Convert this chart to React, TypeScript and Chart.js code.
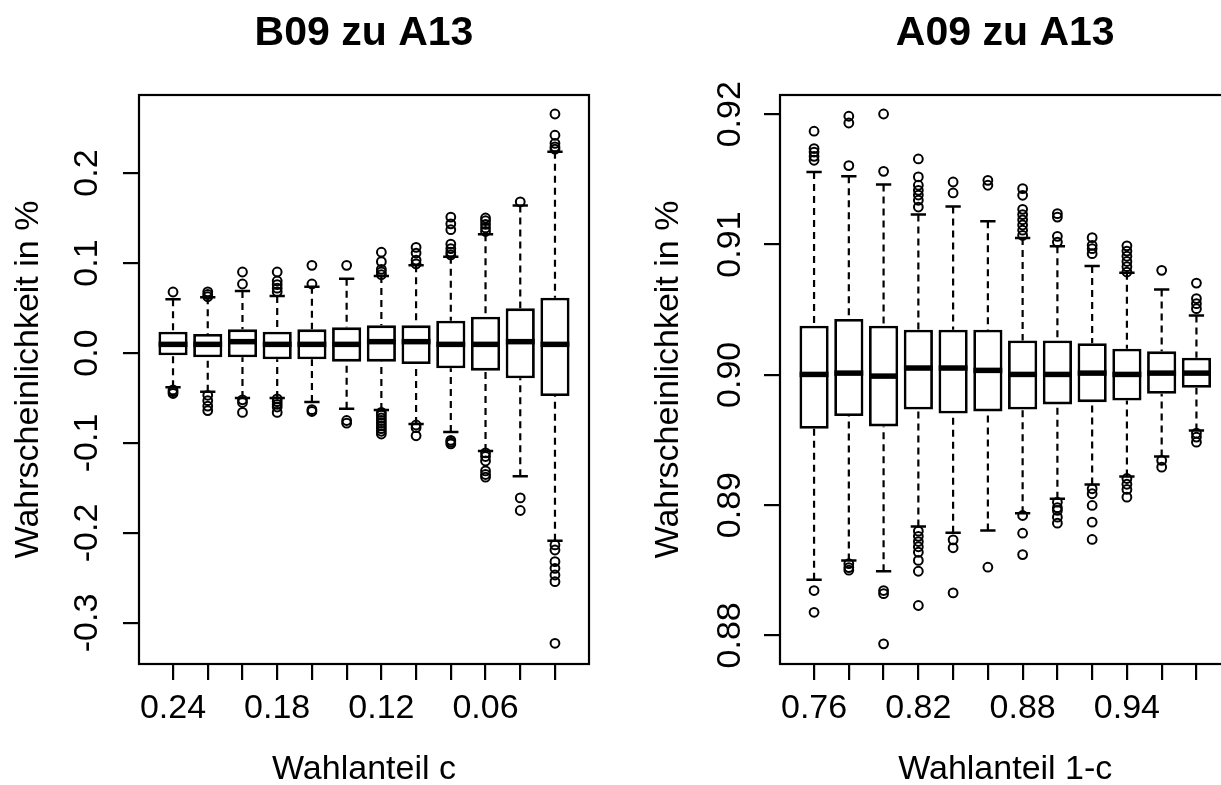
import React, { useEffect, useRef } from 'react';
import { Chart, registerables } from 'chart.js';

Chart.register(...registerables);

const FONT = "'Liberation Sans', Arial, Helvetica, sans-serif";
Chart.defaults.font.family = FONT;
Chart.defaults.color = '#000';

// ---------- Left panel: "B09 zu A13" ----------
const leftTitle = 'B09 zu A13';
const leftXTitle = 'Wahlanteil c';
const leftCategories = ['0.24', '0.22', '0.20', '0.18', '0.16', '0.14', '0.12', '0.10', '0.08', '0.06', '0.04', '0.02'];
const leftQ1 = [-0.0026, -0.0048, -0.0048, -0.007, -0.007, -0.0096, -0.0096, -0.0122, -0.017, -0.0196, -0.028, -0.0478];
const leftMedian = [0.0096, 0.0096, 0.0126, 0.0096, 0.0096, 0.0096, 0.0126, 0.0126, 0.0096, 0.0096, 0.0126, 0.0096];
const leftQ3 = [0.0237, 0.0211, 0.0263, 0.0237, 0.0263, 0.0285, 0.0307, 0.0307, 0.0359, 0.0404, 0.0496, 0.0615];
const leftLow = [-0.038, -0.043, -0.05, -0.05, -0.0544, -0.0619, -0.0633, -0.079, -0.0878, -0.109, -0.137, -0.2085];
const leftHigh = [0.0597, 0.0619, 0.069, 0.0633, 0.0737, 0.0826, 0.0856, 0.0974, 0.107, 0.132, 0.164, 0.2237];
const leftOutliers = [
  [0.0678, -0.041, -0.043, -0.045],
  [0.0625, 0.065, 0.068, -0.047, -0.053, -0.059, -0.064],
  [0.0767, 0.09, -0.052, -0.055, -0.066],
  [0.068, 0.072, 0.076, 0.08, 0.09, -0.051, -0.054, -0.057, -0.06, -0.066],
  [0.0767, 0.0974, -0.063, -0.065],
  [0.0974, -0.075, -0.078],
  [0.087, 0.09, 0.093, 0.1015, 0.112, -0.066, -0.069, -0.072, -0.075, -0.078, -0.081, -0.084, -0.087, -0.09],
  [0.099, 0.1033, 0.111, 0.1174, -0.08, -0.083, -0.092],
  [0.109, 0.112, 0.116, 0.121, 0.137, 0.1435, 0.151, -0.097, -0.099, -0.101],
  [0.135, 0.139, 0.143, 0.147, 0.15, -0.111, -0.115, -0.12, -0.131, -0.135, -0.138],
  [0.168, -0.161, -0.175],
  [0.2265, 0.229, 0.233, 0.242, 0.2656, -0.2133, -0.2189, -0.2319, -0.2393, -0.2467, -0.2541, -0.3226],
];
const leftYTicks = [-0.3, -0.2, -0.1, 0.0, 0.1, 0.2];
const leftYMin = -0.3456;
const leftYMax = 0.2867;

// ---------- Right panel: "A09 zu A13" ----------
const rightTitle = 'A09 zu A13';
const rightXTitle = 'Wahlanteil 1-c';
const rightCategories = ['0.76', '0.78', '0.80', '0.82', '0.84', '0.86', '0.88', '0.90', '0.92', '0.94', '0.96', '0.98'];
const rightQ1 = [0.89586, 0.89683, 0.89604, 0.89734, 0.89703, 0.89719, 0.89734, 0.89773, 0.8979, 0.89803, 0.89855, 0.89901];
const rightMedian = [0.90003, 0.90013, 0.8999, 0.90052, 0.90052, 0.90034, 0.90003, 0.90003, 0.90013, 0.90003, 0.90013, 0.90013];
const rightQ3 = [0.90377, 0.90428, 0.90377, 0.90346, 0.90346, 0.90346, 0.90264, 0.90264, 0.90243, 0.902, 0.9018, 0.90131];
const rightLow = [0.88426, 0.88574, 0.88492, 0.88836, 0.88787, 0.88805, 0.88938, 0.89048, 0.89158, 0.8922, 0.89373, 0.89573];
const rightHigh = [0.91557, 0.91524, 0.9146, 0.9123, 0.91293, 0.91178, 0.9105, 0.90986, 0.90835, 0.90784, 0.90654, 0.90456];
const rightOutliers = [
  [0.91647, 0.91677, 0.9171, 0.91737, 0.9187, 0.88344, 0.88177],
  [0.91606, 0.91933, 0.91985, 0.8855, 0.8852, 0.885],
  [0.91562, 0.92002, 0.88344, 0.8832, 0.87935],
  [0.91288, 0.9134, 0.9138, 0.91416, 0.91455, 0.91519, 0.91657, 0.888, 0.8876, 0.8872, 0.8868, 0.88638, 0.88575, 0.88492, 0.88229],
  [0.91396, 0.9148, 0.88733, 0.88672, 0.88326],
  [0.91455, 0.91493, 0.88523],
  [0.9107, 0.9111, 0.9115, 0.9119, 0.9123, 0.9127, 0.91378, 0.91429, 0.8892, 0.88784, 0.8862],
  [0.91019, 0.91063, 0.91211, 0.91237, 0.89022, 0.8898, 0.88959, 0.88907, 0.88861],
  [0.9093, 0.90968, 0.90994, 0.91053, 0.89125, 0.89087, 0.88997, 0.88869, 0.88736],
  [0.90789, 0.9083, 0.9087, 0.9091, 0.9095, 0.9099, 0.89204, 0.8916, 0.8912, 0.89061],
  [0.90802, 0.89343, 0.89291],
  [0.90508, 0.90546, 0.90585, 0.90704, 0.89552, 0.89522, 0.89483],
];
const rightYTicks = [0.88, 0.89, 0.9, 0.91, 0.92];
const rightYMin = 0.8778;
const rightYMax = 0.92148;

const yTitle = 'Wahrscheinlichkeit in %';
const labelEvery = 3;

type PanelProps = {
  title: string;
  xTitle: string;
  categories: string[];
  q1: number[];
  median: number[];
  q3: number[];
  low: number[];
  high: number[];
  outliers: number[][];
  yTicks: number[];
  yMin: number;
  yMax: number;
  yDecimals: number;
  canvasWidth: number;
  canvasHeight: number;
  left: number;
  yAxisWidth: number;
  padRight: number;
  yTickPadding: number;
  yTitlePad: number;
};

function BoxPanel(p: PanelProps) {
  const ref = useRef<HTMLCanvasElement | null>(null);

  useEffect(() => {
    if (!ref.current) return;

    const boxData = p.categories.map((_, i) => ({ x: i, y: [p.q1[i], p.q3[i]] }));
    const outlierData = p.outliers.flatMap((arr, i) => arr.map((v) => ({ x: i, y: v })));

    const boxPlugin = {
      id: 'rBoxplot',
      afterDatasetsDraw(chart: any) {
        const { ctx, scales } = chart;
        const x = scales.x;
        const y = scales.y;
        const unit = Math.abs(x.getPixelForValue(1) - x.getPixelForValue(0));
        ctx.save();
        ctx.strokeStyle = '#000';
        p.categories.forEach((_, i) => {
          const cx = x.getPixelForValue(i);
          const yLo = y.getPixelForValue(p.low[i]);
          const yHi = y.getPixelForValue(p.high[i]);
          const yQ1 = y.getPixelForValue(p.q1[i]);
          const yQ3 = y.getPixelForValue(p.q3[i]);
          const yMed = y.getPixelForValue(p.median[i]);
          // dashed whiskers
          ctx.lineWidth = 2.2;
          ctx.setLineDash([7, 5]);
          ctx.beginPath();
          ctx.moveTo(cx, yHi);
          ctx.lineTo(cx, yQ3);
          ctx.moveTo(cx, yLo);
          ctx.lineTo(cx, yQ1);
          ctx.stroke();
          // staples
          ctx.setLineDash([]);
          ctx.lineWidth = 2.5;
          const half = unit * 0.22;
          ctx.beginPath();
          ctx.moveTo(cx - half, yHi);
          ctx.lineTo(cx + half, yHi);
          ctx.moveTo(cx - half, yLo);
          ctx.lineTo(cx + half, yLo);
          ctx.stroke();
          // median
          const bw = unit * 0.415;
          ctx.lineWidth = 5.5;
          ctx.beginPath();
          ctx.moveTo(cx - bw, yMed);
          ctx.lineTo(cx + bw, yMed);
          ctx.stroke();
        });
        ctx.restore();
      },
      afterDraw(chart: any) {
        const { ctx, chartArea } = chart;
        ctx.save();
        ctx.strokeStyle = '#000';
        ctx.lineWidth = 2.2;
        ctx.strokeRect(chartArea.left, chartArea.top, chartArea.right - chartArea.left, chartArea.bottom - chartArea.top);
        ctx.restore();
      },
    };

    const tickGrid = {
      display: true,
      drawOnChartArea: false,
      drawTicks: true,
      tickLength: 16,
      lineWidth: 2.2,
      color: '#000',
      offset: false,
    };

    const chart = new Chart(ref.current, {
      type: 'bar',
      data: {
        datasets: [
          {
            type: 'bar',
            data: boxData as any,
            backgroundColor: '#ffffff',
            borderColor: '#000000',
            borderWidth: 2.8,
            borderSkipped: false,
            barPercentage: 0.84,
            categoryPercentage: 1,
            grouped: false,
          } as any,
          {
            type: 'scatter',
            data: outlierData as any,
            pointRadius: 4.4,
            pointHoverRadius: 4.4,
            pointBorderWidth: 2,
            pointBorderColor: '#000000',
            pointBackgroundColor: 'rgba(0,0,0,0)',
            showLine: false,
          } as any,
        ],
      },
      options: {
        responsive: false,
        animation: false,
        events: [],
        layout: { padding: { left: 0, right: p.padRight, top: 0, bottom: 0 } },
        plugins: {
          legend: { display: false },
          tooltip: { enabled: false },
          title: {
            display: true,
            text: p.title,
            color: '#000',
            fullSize: false,
            font: { family: FONT, size: 41, weight: 'bold' },
            padding: { top: 9.2, bottom: 36.6 },
          },
        },
        scales: {
          x: {
            type: 'linear',
            min: -0.98,
            max: p.categories.length - 0.02,
            offset: false,
            afterBuildTicks: (s: any) => {
              s.ticks = p.categories.map((_, i) => ({ value: i }));
            },
            afterFit: (s: any) => {
              s.height = p.canvasHeight - 664;
            },
            grid: tickGrid,
            border: { display: false },
            ticks: {
              autoSkip: false,
              minRotation: 0,
              maxRotation: 0,
              padding: 8,
              color: '#000',
              font: { family: FONT, size: 34 },
              callback: (_v: any, index: number) => (index % labelEvery === 0 ? p.categories[index] : ''),
            },
            title: {
              display: true,
              text: p.xTitle,
              color: '#000',
              font: { family: FONT, size: 34 },
              padding: { top: 0, bottom: p.canvasHeight - 770 - 20.4 },
            },
          },
          y: {
            type: 'linear',
            min: p.yMin,
            max: p.yMax,
            beginAtZero: false,
            afterBuildTicks: (s: any) => {
              s.ticks = p.yTicks.map((v) => ({ value: v }));
            },
            afterFit: (s: any) => {
              s.width = p.yAxisWidth;
            },
            grid: tickGrid,
            border: { display: false },
            ticks: {
              autoSkip: false,
              minRotation: 90,
              maxRotation: 90,
              crossAlign: 'center',
              padding: p.yTickPadding,
              color: '#000',
              font: { family: FONT, size: 34 },
              callback: (v: any) => Number(v).toFixed(p.yDecimals),
            },
            title: {
              display: true,
              text: yTitle,
              color: '#000',
              font: { family: FONT, size: 34 },
              padding: { top: p.yTitlePad, bottom: 0 },
            },
          },
        },
      } as any,
      plugins: [boxPlugin],
    });

    return () => chart.destroy();
  }, []);

  return (
    <canvas
      ref={ref}
      width={p.canvasWidth}
      height={p.canvasHeight}
      style={{ position: 'absolute', left: p.left, top: 0, width: p.canvasWidth, height: p.canvasHeight }}
    />
  );
}

export default function App() {
  return (
    <div
      style={{
        position: 'fixed',
        left: 0,
        top: 0,
        width: 1221,
        height: 785,
        overflow: 'hidden',
        background: '#ffffff',
      }}
    >
      <BoxPanel
        title={leftTitle}
        xTitle={leftXTitle}
        categories={leftCategories}
        q1={leftQ1}
        median={leftMedian}
        q3={leftQ3}
        low={leftLow}
        high={leftHigh}
        outliers={leftOutliers}
        yTicks={leftYTicks}
        yMin={leftYMin}
        yMax={leftYMax}
        yDecimals={1}
        canvasWidth={610}
        canvasHeight={800}
        left={0}
        yAxisWidth={139}
        padRight={21}
        yTickPadding={5.7}
        yTitlePad={8.1}
      />
      <BoxPanel
        title={rightTitle}
        xTitle={rightXTitle}
        categories={rightCategories}
        q1={rightQ1}
        median={rightMedian}
        q3={rightQ3}
        low={rightLow}
        high={rightHigh}
        outliers={rightOutliers}
        yTicks={rightYTicks}
        yMin={rightYMin}
        yMax={rightYMax}
        yDecimals={2}
        canvasWidth={640}
        canvasHeight={800}
        left={620}
        yAxisWidth={160}
        padRight={29.5}
        yTickPadding={0.4}
        yTitlePad={28.1}
      />
    </div>
  );
}
